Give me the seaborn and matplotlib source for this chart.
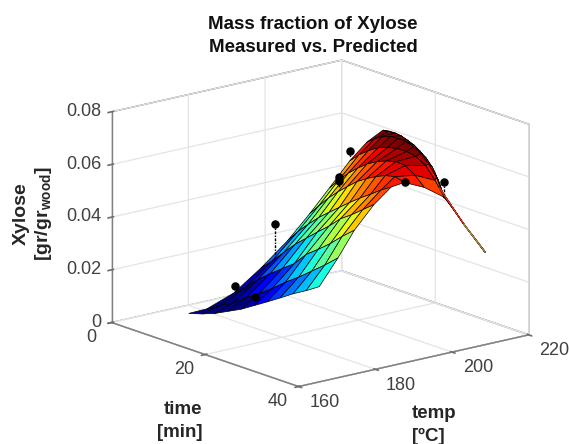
#!/usr/bin/env python3
import numpy as np
import seaborn as sns
import matplotlib as mpl
import matplotlib.pyplot as plt

mpl.use("Agg")

temp_rows = [175, 180, 185, 190, 195, 200, 204, 207, 209, 211, 213, 215, 217, 219, 220]

time_rows = [
    [4.2, 7.0, 9.8, 12.6, 15.4, 18.2, 20.9, 23.7, 26.5, 29.3, 32.1],
    [4.0, 6.8, 9.6, 12.4, 15.2, 18.0, 20.8, 23.6, 26.4, 29.2, 32.0],
    [5.7, 8.3, 10.8, 13.4, 16.0, 18.6, 21.1, 23.7, 26.3, 28.8, 31.4],
    [7.4, 9.8, 12.2, 14.6, 17.0, 19.4, 21.9, 24.3, 26.7, 29.1, 31.5],
    [8.9, 11.1, 13.3, 15.6, 17.8, 20.0, 22.2, 24.4, 26.7, 28.9, 31.1],
    [9.5, 11.5, 13.6, 15.6, 17.6, 19.7, 21.7, 23.7, 25.7, 27.8, 29.8],
    [10.5, 12.5, 14.6, 16.6, 18.6, 20.7, 22.7, 24.7, 26.7, 28.8, 30.8],
    [12.4, 14.4, 16.4, 18.5, 20.5, 22.5, 24.5, 26.5, 28.6, 30.6, 32.6],
    [14.4, 16.1, 17.7, 19.4, 21.0, 22.7, 24.3, 26.0, 27.6, 29.3, 30.9],
    [16.2, 17.5, 18.8, 20.1, 21.4, 22.8, 24.1, 25.4, 26.7, 28.0, 29.3],
    [18.3, 19.2, 20.2, 21.1, 22.0, 23.0, 23.9, 24.8, 25.8, 26.7, 27.6],
    [20.3, 20.9, 21.4, 22.0, 22.5, 23.1, 23.7, 24.2, 24.8, 25.3, 25.9],
    [22.1, 22.4, 22.6, 22.9, 23.1, 23.4, 23.7, 23.9, 24.2, 24.4, 24.7],
    [26.9, 26.9, 27.0, 27.0, 27.0, 27.0, 27.0, 27.0, 27.0, 27.1, 27.1],
    [30.6, 30.6, 30.6, 30.7, 30.7, 30.7, 30.7, 30.7, 30.8, 30.8, 30.8],
]

xylose_rows = [
    [0.0011, 0.0026, 0.0045, 0.0070, 0.0095, 0.0126, 0.0156, 0.0188, 0.0221, 0.0250, 0.0282],
    [0.0011, 0.0040, 0.0068, 0.0105, 0.0137, 0.0174, 0.0214, 0.0250, 0.0290, 0.0330, 0.0374],
    [0.0066, 0.0105, 0.0147, 0.0185, 0.0220, 0.0255, 0.0305, 0.0340, 0.0378, 0.0420, 0.0459],
    [0.0155, 0.0196, 0.0242, 0.0287, 0.0325, 0.0363, 0.0401, 0.0443, 0.0473, 0.0507, 0.0541],
    [0.0250, 0.0298, 0.0339, 0.0379, 0.0412, 0.0444, 0.0476, 0.0506, 0.0535, 0.0564, 0.0589],
    [0.0339, 0.0382, 0.0425, 0.0460, 0.0492, 0.0524, 0.0547, 0.0567, 0.0583, 0.0592, 0.0582],
    [0.0431, 0.0473, 0.0513, 0.0544, 0.0572, 0.0593, 0.0608, 0.0617, 0.0614, 0.0590, 0.0556],
    [0.0536, 0.0571, 0.0599, 0.0623, 0.0636, 0.0644, 0.0644, 0.0638, 0.0616, 0.0572, 0.0520],
    [0.0612, 0.0636, 0.0654, 0.0664, 0.0666, 0.0665, 0.0655, 0.0639, 0.0610, 0.0568, 0.0501],
    [0.0662, 0.0666, 0.0667, 0.0664, 0.0656, 0.0646, 0.0631, 0.0613, 0.0587, 0.0545, 0.0489],
    [0.0643, 0.0641, 0.0636, 0.0626, 0.0616, 0.0603, 0.0589, 0.0572, 0.0547, 0.0514, 0.0470],
    [0.0574, 0.0566, 0.0561, 0.0553, 0.0544, 0.0532, 0.0520, 0.0508, 0.0496, 0.0475, 0.0452],
    [0.0493, 0.0486, 0.0483, 0.0476, 0.0469, 0.0466, 0.0460, 0.0453, 0.0446, 0.0439, 0.0432],
    [0.0343, 0.0343, 0.0343, 0.0343, 0.0343, 0.0343, 0.0343, 0.0343, 0.0343, 0.0343, 0.0343],
    [0.0257, 0.0257, 0.0257, 0.0257, 0.0257, 0.0257, 0.0257, 0.0257, 0.0257, 0.0257, 0.0257],
]

# measured points and the predicted value each stem ends on
meas_time = [10, 20, 20, 20, 20, 10, 30, 30]
meas_temp = [180, 173, 178.3, 195, 195, 210, 200, 210]
meas_xylose = [0.0133, 0.0177, 0.0436, 0.0561, 0.0546, 0.0547, 0.0584, 0.0551]
pred_xylose = [0.0111, 0.0177, 0.0311, 0.0519, 0.0519, 0.0522, 0.0584, 0.0506]

time_ticks = [0, 20, 40]
temp_ticks = [160, 180, 200, 220]
xylose_ticks = [0, 0.02, 0.04, 0.06, 0.08]
xylose_labels = ["0", "0.02", "0.04", "0.06", "0.08"]
tail_colors = ["#d8301c", "#a8843c"]

sns.set_theme(style="white")
plt.rcParams["font.family"] = ["Liberation Sans", "DejaVu Sans"]
plt.rcParams["grid.color"] = "#e4e4e4"
plt.rcParams["grid.linewidth"] = 0.9
plt.rcParams["axes.linewidth"] = 1.0
plt.rcParams["mathtext.fontset"] = "custom"
plt.rcParams["mathtext.bf"] = "Liberation Sans:bold"

jet = mpl.colormaps["jet"]

fig = plt.figure(figsize=(5.7, 4.44), dpi=100)
ax = fig.add_axes(
    [(314.5 - 210) / 570, 1 - (229 + 210) / 444, 420 / 570, 420 / 444],
    projection="3d",
    proj_type="ortho",
)
ax.view_init(elev=16.1, azim=-39)
ax.set_box_aspect((298, 297, 220), zoom=1.094)
ax.computed_zorder = False
ax.patch.set_alpha(0)

tt = np.array(time_rows)
temp = np.array(temp_rows)[:, None] * np.ones_like(tt)
zz = np.array(xylose_rows)

ax.plot_surface(
    tt, temp, zz, rstride=1, cstride=1, cmap=jet, vmin=0.0105, vmax=0.0645,
    edgecolor="black", linewidth=0.5, shade=False, antialiased=True, zorder=2,
)
# the tail of the surface is seen edge-on, keep its colour over the mesh lines
for r, col in zip((12, 13), tail_colors):
    ax.plot(tt[r:r + 2, 5], temp[r:r + 2, 5], zz[r:r + 2, 5], color=col, lw=1.1, zorder=2.5)

for t, T, z, p in zip(meas_time, meas_temp, meas_xylose, pred_xylose):
    ax.plot([t, t], [T, T], [z, p], color="black", lw=1, ls=(0, (2, 1, 1, 1)), zorder=3)
ax.scatter(meas_time, meas_temp, meas_xylose, color="black", s=26, depthshade=False, zorder=4)

ax.set_xlim(0, 40)
ax.set_ylim(160, 220)
ax.set_zlim(0, 0.08)
ax.set_xticks(time_ticks)
ax.set_yticks(temp_ticks)
ax.set_zticks(xylose_ticks)
ax.set_zticklabels(xylose_labels)
ax.zaxis.set_ticks_position("lower")
ax.tick_params(labelsize=13, labelcolor="#404040", color="#707070")
ax.xaxis.set_tick_params(pad=6)
ax.yaxis.set_tick_params(pad=1)
ax.zaxis.set_tick_params(pad=-4)
for lab in ax.xaxis.get_ticklabels():
    lab.set_va("bottom")
    lab.set_ha("center")
for lab in ax.yaxis.get_ticklabels():
    lab.set_va("center")
    lab.set_ha("left")
for lab in ax.zaxis.get_ticklabels():
    lab.set_va("center")
    lab.set_ha("right")

for axis in (ax.xaxis, ax.yaxis, ax.zaxis):
    axis.set_pane_color("white")
    axis.pane.set_edgecolor("#6e6e6e")
    axis.pane.set_linewidth(1.0)
    axis.line.set_color("#808080")
    axis.line.set_linewidth(1.0)

fig.text(313 / 570, 1 - 36 / 444, "Mass fraction of Xylose\nMeasured vs. Predicted",
         ha="center", va="center", fontsize=13.5, fontweight="bold", color="#111111",
         linespacing=1.5)
fig.text(202 / 570, 1 - 421 / 444, "time\n[min]", ha="right", va="center", multialignment="right",
         fontsize=13.5, fontweight="bold", color="#262626", linespacing=1.45)
fig.text(412 / 570, 1 - 425 / 444, "temp\n[ºC]", ha="left", va="center", multialignment="left",
         fontsize=13.5, fontweight="bold", color="#262626", linespacing=1.5)
fig.text(33.5 / 570, 1 - 214 / 444, "Xylose\n[gr/gr$_{\\mathbf{wood}}$]", ha="center", va="center",
         rotation=90, fontsize=14, fontweight="bold", color="#262626", linespacing=1.25)

fig.savefig("out.png", dpi=100)
